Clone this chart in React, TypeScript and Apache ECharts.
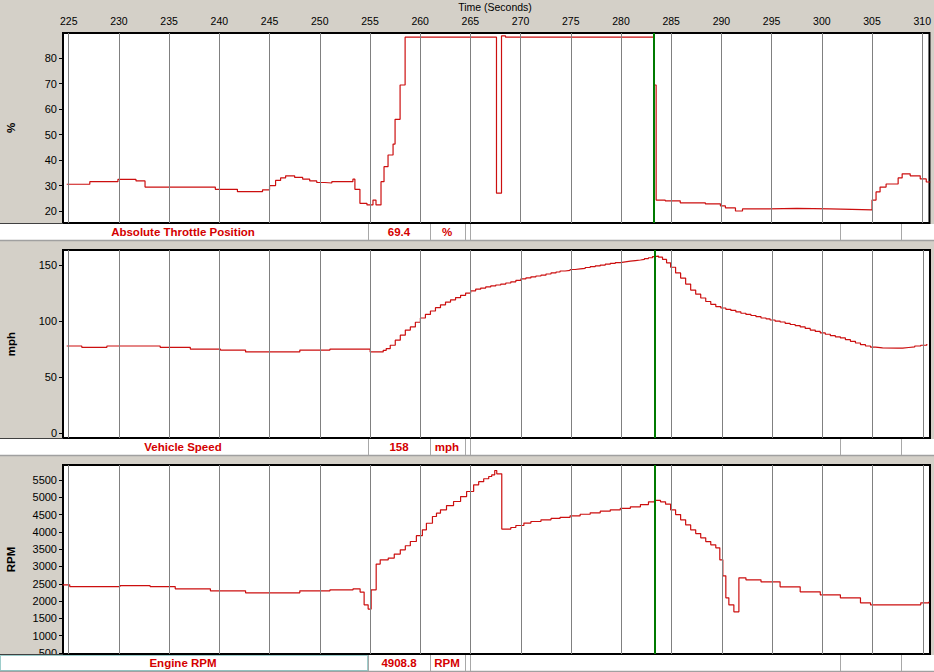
import React, { useEffect, useRef } from 'react';
import * as echarts from 'echarts';

// ---------- data ----------
const timeTicks = [225, 230, 235, 240, 245, 250, 255, 260, 265, 270, 275, 280, 285, 290, 295, 300, 305, 310];
const tpsTicks = [20, 30, 40, 50, 60, 70, 80];
const speedTicks = [0, 50, 100, 150];
const rpmTicks = [500, 1000, 1500, 2000, 2500, 3000, 3500, 4000, 4500, 5000, 5500];
const cursorTime = 283.3;

const tpsData = [
  [224.8, 30.5], [227.1, 31.5], [229.9, 32.4], [231.7, 31.8], [232.6, 29.4], [239.6, 28.5], [241.8, 27.6],
  [244.3, 28.3], [245.0, 30.0], [245.6, 32.0], [246.1, 33.0], [246.6, 33.8], [247.5, 33.2], [248.3, 32.5],
  [249.0, 31.8], [249.7, 31.2], [250.5, 31.0], [251.2, 31.5], [253.3, 32.5], [253.5, 28.5], [254.0, 23.0],
  [254.7, 22.4], [255.3, 24.3], [255.6, 22.4], [256.1, 31.5], [256.4, 37.4], [256.8, 42.0], [257.3, 46.3],
  [257.5, 56.0], [258.0, 69.5], [258.5, 88.3], [267.6, 27.0], [268.1, 88.8], [268.5, 88.3], [283.3, 69.5],
  [283.5, 24.3], [284.4, 24.0], [285.9, 23.2], [288.4, 22.8], [289.9, 22.0], [290.4, 21.2], [291.4, 20.0],
  [292.1, 20.8], [294.8, 21.0], [297.5, 20.8], [300.8, 20.6], [303.0, 20.4], [305.0, 24.3], [305.4, 27.5],
  [305.8, 29.4], [306.4, 30.6], [307.6, 33.0], [308.0, 34.6], [308.8, 33.8], [309.8, 32.6], [310.4, 31.4],
  [310.8, 31.4]
];

const speedData = [
  [224.8, 77.8], [226.3, 76.6], [228.8, 77.8], [234.1, 76.6], [237.1, 75.1], [240.1, 74.2], [242.6, 72.5],
  [248.0, 74.2], [251.0, 75.1], [255.0, 72.5], [256.3, 74], [256.6, 75.5], [257.0, 78.5], [257.5, 83],
  [258.0, 87.5], [258.5, 92], [259.0, 94.8], [259.5, 99], [260.0, 102.8], [260.5, 106], [261.0, 109],
  [261.5, 112], [262.0, 114.5], [262.5, 117], [263.0, 119], [263.5, 121], [264.0, 123], [264.5, 125],
  [265.0, 127], [265.5, 128.5], [266.0, 129.5], [266.5, 130.5], [267.0, 131.4], [267.5, 132.2], [268.0, 133],
  [268.5, 134], [269.0, 135], [269.5, 136.3], [270.0, 137.6], [270.5, 138.5], [271.0, 139.5], [271.5, 140.2],
  [272.0, 141], [272.5, 142], [273.0, 143], [273.5, 143.8], [273.9, 144.7], [274.4, 145.3], [274.9, 146],
  [275.4, 146.5], [275.9, 147], [276.4, 147.8], [276.9, 148.5], [277.4, 149.2], [277.9, 150], [278.4, 150.8],
  [278.9, 151.5], [279.4, 152.2], [279.9, 152.8], [280.4, 153.4], [280.9, 154], [281.4, 154.5], [281.9, 155],
  [282.3, 155.8], [282.7, 156.5], [283.1, 157.5], [283.3, 158], [283.7, 157], [284.1, 155], [284.5, 152],
  [284.9, 148], [285.4, 143], [285.9, 138.4], [286.4, 133], [286.9, 127.7], [287.4, 124], [287.9, 120.6],
  [288.4, 117.5], [288.9, 115], [289.4, 113], [289.9, 111.7], [290.4, 110.5], [290.9, 109.5], [291.4, 108.2],
  [291.9, 107], [292.4, 106], [292.9, 105], [293.4, 104], [293.9, 102.8], [294.4, 102], [294.8, 101],
  [295.3, 100], [295.8, 99.2], [296.3, 98], [296.8, 97], [297.3, 96], [297.8, 94.8], [298.3, 93.5],
  [298.8, 92], [299.3, 90.8], [299.8, 89.5], [300.3, 88.3], [300.8, 87], [301.3, 86], [301.8, 85],
  [302.3, 83.5], [302.8, 82], [303.3, 80.5], [303.8, 79], [304.3, 77.8], [304.8, 76.8], [305.3, 76.2],
  [306.0, 76], [307.5, 76], [308.0, 76.5], [308.6, 77], [309.2, 77.8], [309.8, 78.5], [310.4, 79.5]
];

const rpmData = [
  [224.4, 2470], [225.1, 2420], [230.1, 2445], [233.1, 2420], [235.6, 2355], [239.1, 2298], [242.6, 2240],
  [248.0, 2298], [251.0, 2327], [253.3, 2355], [254.0, 2260], [254.4, 1893], [254.8, 1768], [255.1, 2327],
  [255.6, 3069], [256.0, 3194], [256.8, 3243], [257.4, 3360], [258.0, 3483], [258.5, 3600], [259.0, 3722],
  [259.6, 3890], [260.2, 4060], [260.6, 4250], [261.2, 4445], [261.6, 4540], [262.0, 4638], [262.6, 4760],
  [263.3, 4878], [264.0, 5020], [264.6, 5167], [265.3, 5361], [265.8, 5450], [266.3, 5535], [266.8, 5600],
  [267.1, 5650], [267.4, 5774], [267.6, 5679], [268.1, 4080], [269.0, 4127], [269.5, 4185], [270.3, 4254],
  [271.0, 4300], [272.0, 4350], [273.0, 4390], [273.9, 4420], [274.9, 4465], [275.9, 4510], [276.9, 4552],
  [277.9, 4600], [278.9, 4638], [279.9, 4680], [280.9, 4725], [281.9, 4790], [282.7, 4870], [283.3, 4908.8],
  [283.9, 4870], [284.4, 4800], [284.9, 4638], [285.4, 4500], [285.9, 4350], [286.4, 4200], [286.9, 4060],
  [287.4, 3950], [287.9, 3829], [288.4, 3720], [288.9, 3627], [289.4, 3540], [289.8, 3194], [290.1, 2731],
  [290.4, 2095], [290.7, 1893], [291.2, 1690], [291.7, 2673], [292.4, 2615], [293.9, 2558], [295.8, 2413],
  [297.8, 2269], [299.8, 2182], [301.8, 2095], [303.8, 1950], [304.8, 1893], [308.8, 1893], [309.8, 1950],
  [310.6, 1980]
];

const panelNames = ['Absolute Throttle Position', 'Vehicle Speed', 'Engine RPM'];
const panelValues = ['69.4', '158', '4908.8'];
const panelUnits = ['%', 'mph', 'RPM'];
const axisTitle = 'Time (Seconds)';

// ---------- layout ----------
const FONT = '"Liberation Sans", Arial, sans-serif';
const BG = '#d4d0c8';
const LINE_RED = '#cc0f0f';
const TEXT_RED = '#d40000';
const grids = [
  { top: 33, height: 190, min: 15.28, max: 89.94 },
  { top: 250, height: 188, min: -4.2, max: 163.4 },
  { top: 465, height: 189, min: 471, max: 5933 },
];
const statusTops = [224, 439, 655];
const seriesData = [tpsData, speedData, rpmData];
const yTicks = [tpsTicks, speedTicks, rpmTicks];
const X_MIN = 224.43;
const X_MAX = 310.72;

export default function App() {
  const ref = useRef<HTMLDivElement>(null);

  useEffect(() => {
    if (!ref.current) return;
    const chart = echarts.init(ref.current, null, { renderer: 'svg' });

    const graphic: any[] = [];
    graphic.push({
      type: 'text', x: 495, y: 7, z: 100,
      style: { text: axisTitle, font: `10.5px ${FONT}`, fill: '#000', align: 'center', verticalAlign: 'middle' },
    });
    // y-axis titles
    grids.forEach((g, i) => {
      graphic.push({
        type: 'text', x: 11, y: g.top + g.height / 2, rotation: Math.PI / 2, z: 100,
        style: { text: panelUnits[i], font: `bold 11.5px ${FONT}`, fill: '#000', align: 'center', verticalAlign: 'middle' },
      });
    });
    // status bars
    statusTops.forEach((top, i) => {
      const h = 16;
      graphic.push({ type: 'rect', z: 100, shape: { x: 0, y: top, width: 934, height: h }, style: { fill: '#fff' } });
      graphic.push({ type: 'line', z: 101, shape: { x1: 0, y1: top - 0.5, x2: 63, y2: top - 0.5 }, style: { stroke: '#404040', lineWidth: 1 } });
      graphic.push({ type: 'line', z: 101, shape: { x1: 0, y1: top + h + 0.5, x2: 934, y2: top + h + 0.5 }, style: { stroke: '#a0a0a0', lineWidth: 1.5 } });
      [368.5, 430.5, 465.5, 470.5, 840.5, 901.5].forEach((sx) => {
        graphic.push({ type: 'line', z: 101, shape: { x1: sx, y1: top, x2: sx, y2: top + h }, style: { stroke: '#a8a8a8', lineWidth: 1 } });
      });
      if (i === 2) {
        graphic.push({
          type: 'rect', z: 102, shape: { x: 0.5, y: top + 0.5, width: 367, height: h - 1 },
          style: { fill: 'none', stroke: '#3a9a96', lineWidth: 1, lineDash: [1, 1] },
        });
      }
      const cy = top + h / 2;
      graphic.push({ type: 'text', z: 103, x: 183, y: cy, style: { text: panelNames[i], font: `bold 11.5px ${FONT}`, fill: TEXT_RED, align: 'center', verticalAlign: 'middle' } });
      graphic.push({ type: 'text', z: 103, x: 399, y: cy, style: { text: panelValues[i], font: `bold 11.5px ${FONT}`, fill: TEXT_RED, align: 'center', verticalAlign: 'middle' } });
      graphic.push({ type: 'text', z: 103, x: 447, y: cy, style: { text: panelUnits[i], font: `bold 11.5px ${FONT}`, fill: TEXT_RED, align: 'center', verticalAlign: 'middle' } });
    });

    const option: any = {
      animation: false,
      backgroundColor: BG,
      textStyle: { fontFamily: FONT },
      grid: grids.map((g) => ({
        left: 63, width: 867, top: g.top, height: g.height,
        show: true, backgroundColor: '#fff', borderColor: '#000', borderWidth: 2,
      })),
      xAxis: grids.map((g, i) => ({
        type: 'value', gridIndex: i, min: X_MIN, max: X_MAX,
        position: 'top',
        axisLine: { show: false },
        axisTick: { show: false },
        splitLine: { show: false },
        axisLabel: i === 0
          ? { show: true, customValues: timeTicks, color: '#000', fontSize: 10.5, margin: 7, fontFamily: FONT, formatter: (v: number) => String(v) }
          : { show: false },
      })),
      yAxis: grids.map((g, i) => ({
        type: 'value', gridIndex: i, min: g.min, max: g.max,
        axisLine: { show: false },
        axisTick: { show: true, customValues: yTicks[i], length: 4, lineStyle: { color: '#000', width: 1 } },
        axisLabel: { show: true, customValues: yTicks[i], color: '#000', fontSize: 11, margin: 6, fontFamily: FONT, formatter: (v: number) => String(v) },
        splitLine: { show: false },
      })),
      series: [
        ...grids.map((g, i) => ({
          type: 'line', xAxisIndex: i, yAxisIndex: i, data: [], z: 1, silent: true,
          markLine: {
            silent: true, symbol: ['none', 'none'], animation: false,
            label: { show: false },
            lineStyle: { color: '#808080', width: 1, type: 'solid' },
            data: timeTicks.map((t) => ({ xAxis: t })),
          },
        })),
        ...grids.map((g, i) => ({
          type: 'line', xAxisIndex: i, yAxisIndex: i, data: seriesData[i], step: 'end',
          showSymbol: false, symbol: 'none', z: 2, silent: true,
          lineStyle: { color: LINE_RED, width: 1.2 },
        })),
        ...grids.map((g, i) => ({
          type: 'line', xAxisIndex: i, yAxisIndex: i, data: [], z: 3, silent: true,
          markLine: {
            silent: true, symbol: ['none', 'none'], animation: false,
            label: { show: false },
            lineStyle: { color: '#007a00', width: 2, type: 'solid' },
            data: [{ xAxis: cursorTime }],
          },
        })),
      ],
      graphic,
    };
    chart.setOption(option);
    return () => chart.dispose();
  }, []);

  return <div ref={ref} style={{ position: 'fixed', left: 0, top: 0, width: 934, height: 672 }} />;
}
